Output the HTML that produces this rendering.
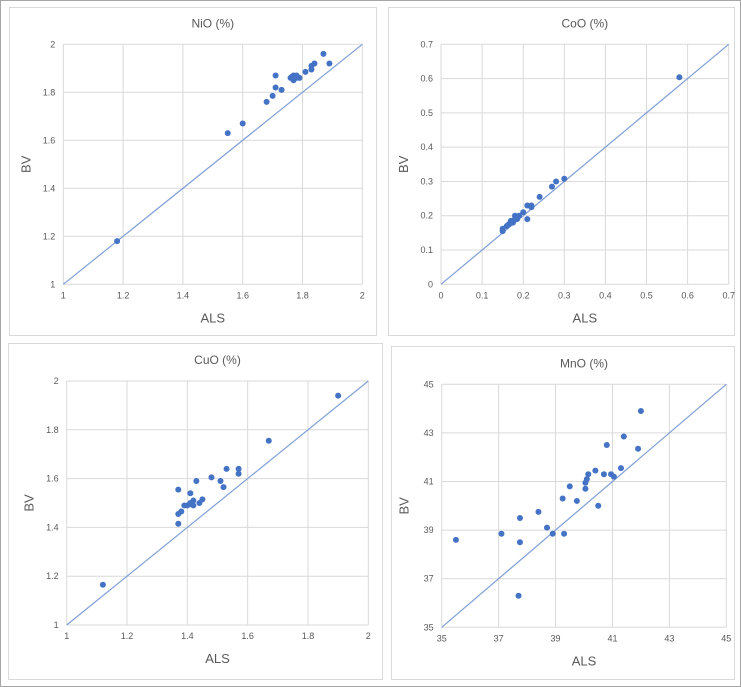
<!DOCTYPE html>
<html><head><meta charset="utf-8"><style>
body{margin:0;background:#fff;}
svg{display:block;font-family:"Liberation Sans",sans-serif;}
</style></head><body>
<svg id="chart" width="741" height="687">
<rect x="0.5" y="0.5" width="740" height="686" fill="#fff" stroke="#a6a6a6"/>
</svg>
<script>
const niAls=[1.18,1.55,1.60,1.68,1.70,1.71,1.71,1.73,1.76,1.765,1.77,1.77,1.78,1.78,1.79,1.81,1.83,1.83,1.84,1.87,1.89];
const niBv=[1.18,1.63,1.67,1.76,1.785,1.82,1.87,1.81,1.86,1.865,1.85,1.87,1.87,1.86,1.86,1.885,1.895,1.91,1.92,1.96,1.92];
const coAls=[0.15,0.15,0.16,0.165,0.17,0.175,0.18,0.18,0.185,0.19,0.2,0.21,0.21,0.22,0.22,0.24,0.27,0.28,0.3,0.58];
const coBv=[0.155,0.162,0.17,0.175,0.185,0.18,0.19,0.2,0.19,0.2,0.21,0.23,0.19,0.23,0.225,0.255,0.285,0.3,0.308,0.604];
const cuAls=[1.12,1.37,1.37,1.37,1.38,1.39,1.40,1.41,1.41,1.42,1.42,1.41,1.43,1.44,1.45,1.48,1.51,1.52,1.53,1.57,1.57,1.67,1.90];
const cuBv=[1.165,1.555,1.455,1.415,1.465,1.49,1.49,1.54,1.5,1.51,1.49,1.495,1.59,1.5,1.515,1.605,1.59,1.565,1.64,1.64,1.62,1.755,1.94];
const mnAls=[35.5,37.1,37.7,37.75,37.75,38.4,38.7,38.9,39.25,39.3,39.5,39.75,40.05,40.05,40.1,40.15,40.4,40.5,40.7,40.8,40.95,41.05,41.3,41.4,41.9,42.0];
const mnBv=[38.6,38.85,36.3,38.5,39.5,39.75,39.1,38.85,40.3,38.85,40.8,40.2,40.7,40.95,41.1,41.3,41.45,40.0,41.3,42.5,41.3,41.2,41.55,42.85,42.35,43.9];
const niTicks=["1","1.2","1.4","1.6","1.8","2"];
const coTicks=["0","0.1","0.2","0.3","0.4","0.5","0.6","0.7"];
const cuTicks=["1","1.2","1.4","1.6","1.8","2"];
const mnTicks=["35","37","39","41","43","45"];

const NS="http://www.w3.org/2000/svg";
const svg=document.getElementById('chart');
function mk(tag,attrs,parent){const e=document.createElementNS(NS,tag);for(const k in attrs)e.setAttribute(k,attrs[k]);parent.appendChild(e);return e;}

function panel(key,title,box,plot,ticks,xs,ys){
  const g=mk('g',{},svg);
  
  
  const fr=mk('rect',{x:box[0]+.5,y:box[1]+.5,width:box[2]-box[0],height:box[3]-box[1],fill:'#fff',stroke:'#d9d9d9'},g);
  
  
  const [L,T,R,B]=plot;
  const lo=parseFloat(ticks[0]),hi=parseFloat(ticks[ticks.length-1]);
  const sx=v=>L+(v-lo)/(hi-lo)*(R-L);
  const sy=v=>B-(v-lo)/(hi-lo)*(B-T);
  ticks.forEach(t=>{
    const v=parseFloat(t);
    const gx=mk('line',{x1:sx(v),x2:sx(v),y1:T,y2:B,stroke:'#d9d9d9','stroke-width':1},g);
    
    
    const gy=mk('line',{x1:L,x2:R,y1:sy(v),y2:sy(v),stroke:'#d9d9d9','stroke-width':1},g);
    
    
    const tx=mk('text',{x:sx(v),y:B+14,'font-size':9,fill:'#595959','text-anchor':'middle'},g);
    tx.textContent=t;
    
    
    const ty=mk('text',{x:L-8,y:sy(v)+3,'font-size':9,fill:'#595959','text-anchor':'end'},g);
    ty.textContent=t;
    
    
  });
  const ln=mk('line',{x1:sx(lo),y1:sy(lo),x2:sx(hi),y2:sy(hi),stroke:'#7f9fd6','stroke-width':1.2},g);
  
  
  xs.forEach((x,i)=>{
    const c=mk('circle',{cx:sx(x),cy:sy(ys[i]),r:3,fill:'#4472c4'},g);
    
    
  });
  const ti=mk('text',{x:(L+R)/2,y:T-17,'font-size':12,fill:'#595959','text-anchor':'middle'},g);
  ti.textContent=title;
  
  
  const xt=mk('text',{x:(L+R)/2,y:B+38,'font-size':13,fill:'#595959','text-anchor':'middle'},g);
  xt.textContent='ALS';
  
  
  const yx=L-33,yy=(T+B)/2;
  const yt=mk('text',{x:yx,y:yy,'font-size':13,fill:'#595959','text-anchor':'middle',transform:`rotate(-90 ${yx} ${yy})`},g);
  yt.textContent='BV';
  
  
}
panel('nio','NiO (%)',[9,7,376,335],[63.3,44.3,362.3,284.3],niTicks,niAls,niBv);
panel('coo','CoO (%)',[388,7,734,335],[441,44.3,728.7,284.3],coTicks,coAls,coBv);
panel('cuo','CuO (%)',[8,343,382,679],[66.7,381,368.3,625],cuTicks,cuAls,cuBv);
panel('mno','MnO (%)',[391,346,734,679],[441.7,384.3,726.3,627.3],mnTicks,mnAls,mnBv);
</script>
</body></html>
